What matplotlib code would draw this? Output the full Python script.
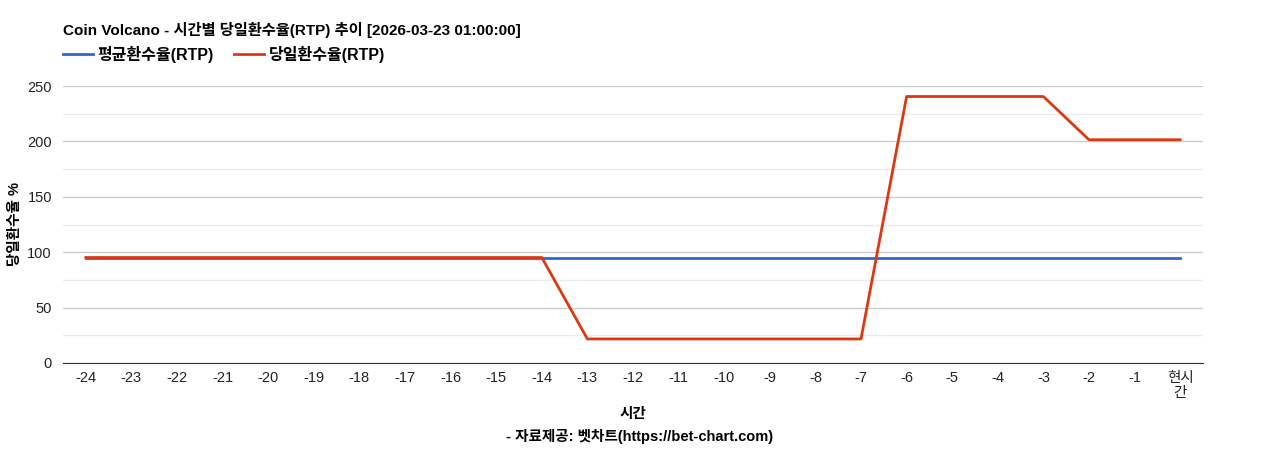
import matplotlib
matplotlib.use("Agg")
import matplotlib.pyplot as plt
from matplotlib.ticker import MultipleLocator

plt.rcParams['font.family'] = ['Liberation Sans', 'Noto Sans CJK KR', 'DejaVu Sans']

# data
hours = ['-24', '-23', '-22', '-21', '-20', '-19', '-18', '-17', '-16', '-15', '-14',
         '-13', '-12', '-11', '-10', '-9', '-8', '-7', '-6', '-5', '-4', '-3',
         '-2', '-1', '현시\n간']
avg_rtp = [95.2] * 25
daily_rtp = [95.2, 95.2, 95.2, 95.2, 95.2, 95.2, 95.2, 95.2, 95.2, 95.2, 95.2,
             21.7, 21.7, 21.7, 21.7, 21.7, 21.7, 21.7,
             240.5, 240.5, 240.5, 240.5,
             201.5, 201.5, 201.5]

title = 'Coin Volcano - 시간별 당일환수율(RTP) 추이 [2026-03-23 01:00:00]'

fig = plt.figure(figsize=(12.68, 4.5), dpi=100)
ax = fig.add_axes([63 / 1268, 1 - 363 / 450, (1203 - 63) / 1268, (363 - 86) / 450])

x = list(range(len(hours)))
ax.plot(x, avg_rtp, color='#3366cc', lw=2, label='평균환수율(RTP)', zorder=3)
ax.plot(x, daily_rtp, color='#dc3912', lw=2, label='당일환수율(RTP)', zorder=4)

ax.set_xlim(-0.5, len(hours) - 0.5)
ax.set_ylim(0, 250)
ax.yaxis.set_major_locator(MultipleLocator(50))
ax.yaxis.set_minor_locator(MultipleLocator(25))
ax.grid(which='major', axis='y', color='#cccccc', lw=1)
ax.grid(which='minor', axis='y', color='#ebebeb', lw=1)
ax.set_axisbelow(True)

ax.set_xticks(x)
ax.set_xticklabels(hours, fontsize=10.5, color='#222222', linespacing=1.1)
ax.tick_params(axis='y', labelsize=10.5, colors='#222222', length=0, pad=8)
ax.tick_params(axis='x', length=0, pad=6)
ax.tick_params(which='minor', length=0)

for s in ['top', 'right', 'left']:
    ax.spines[s].set_visible(False)
ax.spines['bottom'].set_color('#333333')

fig.text(15 / 1268, 1 - 224 / 450, '당일환수율 %', fontsize=10.5, fontweight='bold',
         rotation=90, va='center', ha='center')

fig.text(63 / 1268, 1 - 30 / 450, title, fontsize=11, fontweight='bold', va='center', ha='left')
fig.text(633 / 1268, 1 - 414 / 450, '시간', fontsize=10.5, fontweight='bold', va='center', ha='center')
fig.text(640 / 1268, 1 - 437 / 450, '- 자료제공: 벳차트(https://bet-chart.com)', fontsize=10.5,
         fontweight='bold', va='center', ha='center')

leg = ax.legend(loc='center left', ncol=2, frameon=False, fontsize=11.5, handlelength=1.87,
                handletextpad=0.3, columnspacing=1.25, borderpad=0, borderaxespad=0)
for t in leg.get_texts():
    t.set_fontweight('bold')
leg.set_bbox_to_anchor((63 / 1268, 1 - 54 / 450), transform=fig.transFigure)

fig.savefig('out.png', dpi=100)
